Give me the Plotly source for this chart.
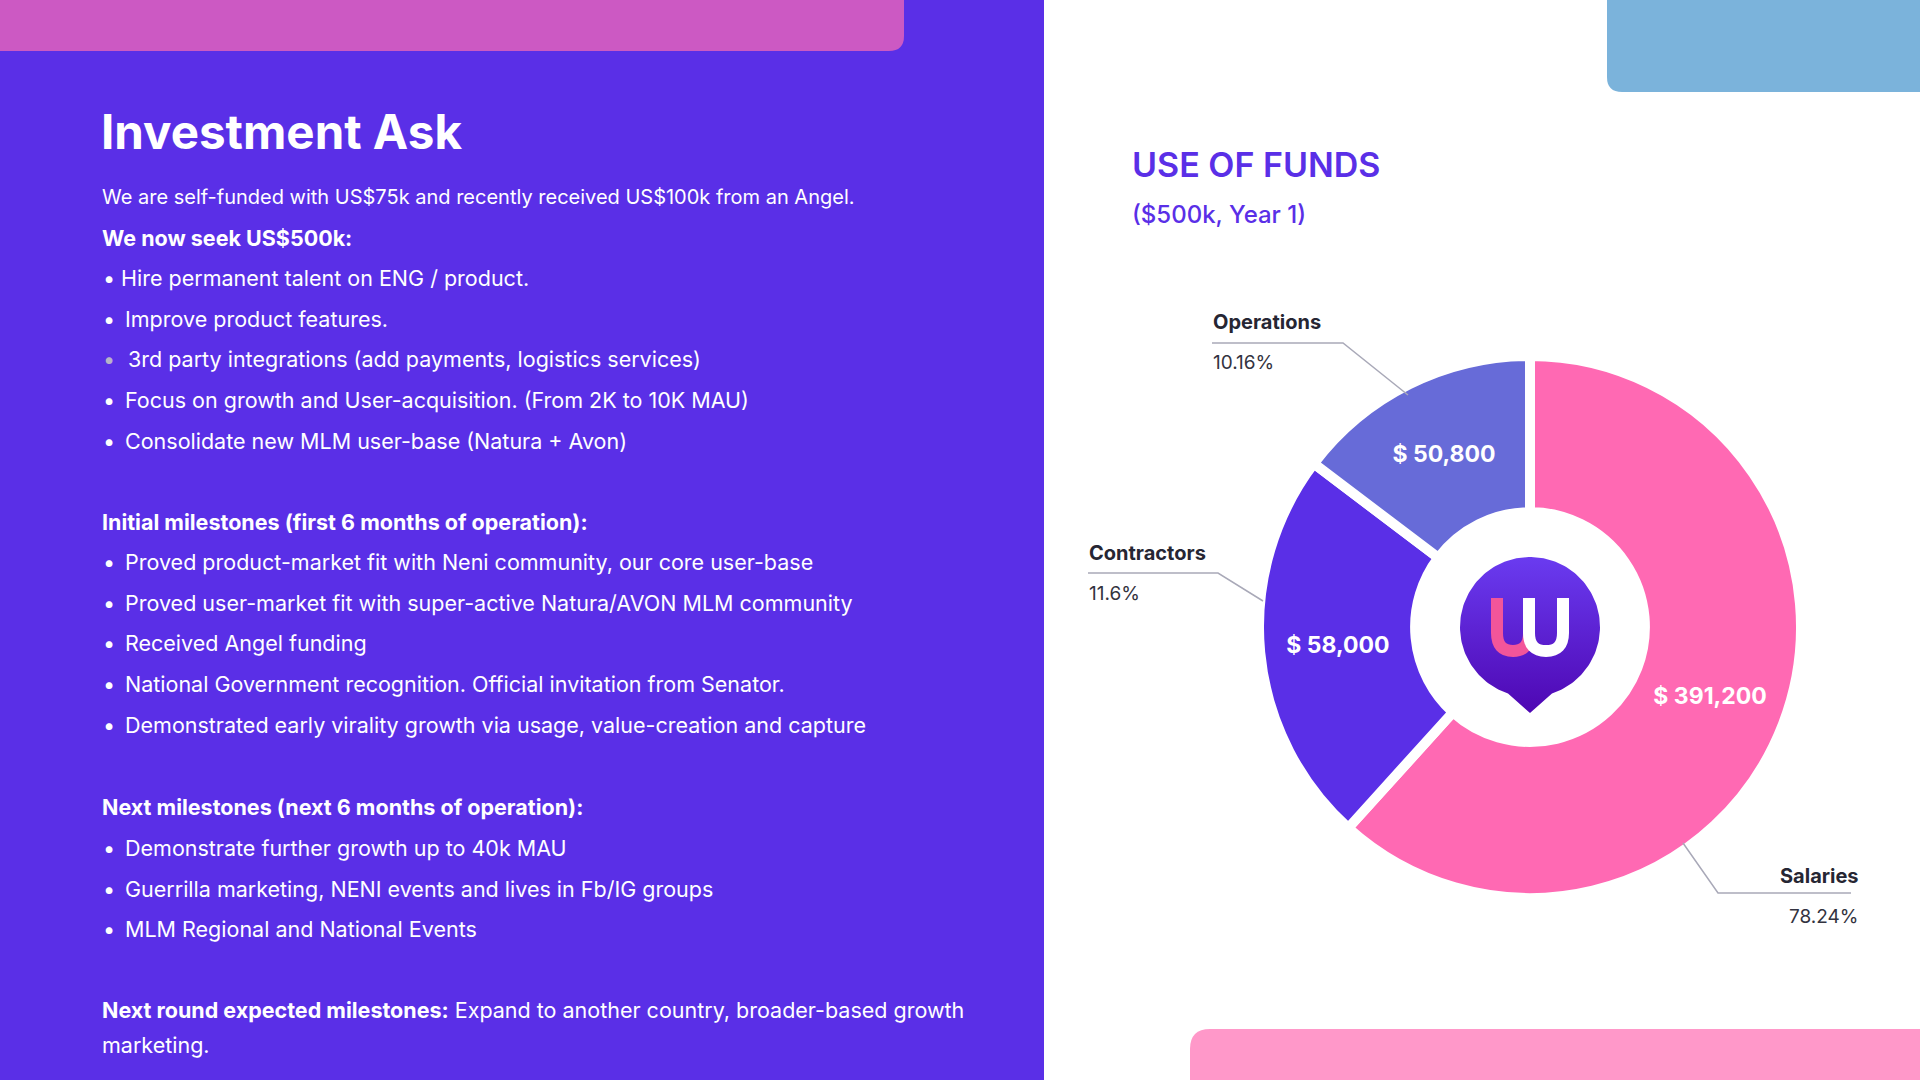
import numpy as np
import plotly.graph_objects as go

# ---------------- data ----------------
categories = ["Salaries", "Contractors", "Operations"]
amounts_usd = [391200, 58000, 50800]
percent_labels = ["78.24%", "11.6%", "10.16%"]
# angular share of each ring segment as drawn in the reference
drawn_share_pct = [61.7, 23.6, 14.7]

slice_colors = ["#FF69B3", "#5A2FE7", "#676BD8"]

title_left = "Investment Ask"
intro_line = "We are self-funded with US$75k and recently received US$100k from an Angel."
seek_header = "We now seek US$500k:"
seek_items = [
    "Hire permanent talent on ENG / product.",
    "Improve product features.",
    "3rd party integrations (add payments, logistics services)",
    "Focus on growth and User-acquisition. (From 2K to 10K MAU)",
    "Consolidate new MLM user-base (Natura + Avon)",
]
initial_header = "Initial milestones (first 6 months of operation):"
initial_items = [
    "Proved product-market fit with Neni community, our core user-base",
    "Proved user-market fit with super-active Natura/AVON MLM community",
    "Received Angel funding",
    "National Government recognition. Official invitation from Senator.",
    "Demonstrated early virality growth via usage, value-creation and capture",
]
next_header = "Next milestones (next 6 months of operation):"
next_items = [
    "Demonstrate further growth up to 40k MAU",
    "Guerrilla marketing, NENI events and lives in Fb/IG groups",
    "MLM Regional and National Events",
]
round_header = "Next round expected milestones:"
round_text_1 = "Expand to another country, broader-based growth"
round_text_2 = "marketing."

chart_title = "USE OF FUNDS"
chart_subtitle = "($500k, Year 1)"

# ---------------- layout constants ----------------
W, H = 1920, 1080
PANEL = "#5A2FE7"
WHITE = "#FFFFFF"
FONT = "Inter"
BODY = 21.5

fig = go.Figure()

# ---------------- donut ----------------
cx, cy, R = 1530, 627, 271
fig.add_trace(go.Pie(
    labels=categories,
    values=drawn_share_pct,
    text=["$ {:,}".format(a) for a in amounts_usd],
    textinfo="text",
    textposition="inside",
    insidetextorientation="horizontal",
    textfont=dict(family=FONT, size=23, color=WHITE, weight=700),
    sort=False,
    direction="clockwise",
    rotation=0,
    hole=0.424,
    marker=dict(colors=slice_colors, line=dict(color=WHITE, width=10)),
    domain=dict(x=[(cx - R) / W, (cx + R) / W], y=[1 - (cy + R) / H, 1 - (cy - R) / H]),
    showlegend=False,
    hoverinfo="label+percent",
))

# ---------------- logo in the hole ----------------
lr = 70
t = np.radians(np.linspace(198.3, 521.7, 160))
lx = list(cx + lr * np.sin(t)) + [cx, cx + lr * np.sin(t[0])]
ly = list(cy - lr * np.cos(t)) + [cy + 86, cy - lr * np.cos(t[0])]
fig.add_trace(go.Scatter(
    x=lx, y=ly, mode="lines", fill="toself", line=dict(width=0, color="#5A20D8"),
    fillgradient=dict(type="vertical", colorscale=[[0, "#4E07B3"], [1, "#6A3BF0"]]),
    hoverinfo="skip", showlegend=False,
))

shapes = []
# background panels
shapes.append(dict(type="rect", xref="x", yref="y", x0=0, x1=1044, y0=0, y1=H,
                   fillcolor=PANEL, line=dict(width=0), layer="below"))
shapes.append(dict(type="path", xref="x", yref="y", layer="below",
                   path="M 0 0 L 904 0 L 904 36 Q 904 51 889 51 L 0 51 Z",
                   fillcolor="#CC59C3", line=dict(width=0)))
shapes.append(dict(type="path", xref="x", yref="y", layer="below",
                   path="M 1607 0 L 1920 0 L 1920 92 L 1622 92 Q 1607 92 1607 77 Z",
                   fillcolor="#7BB3DB", line=dict(width=0)))
shapes.append(dict(type="path", xref="x", yref="y", layer="below",
                   path="M 1190 1080 L 1190 1049 Q 1190 1029 1210 1029 L 1920 1029 L 1920 1080 Z",
                   fillcolor="#FF98C9", line=dict(width=0)))

# logo letter
shapes.append(dict(type="path", xref="x", yref="y", layer="above",
                   path="M 1497 598 L 1497 633 Q 1497 651 1513 651 Q 1529 651 1529 633",
                   line=dict(color="#F2559A", width=12)))
shapes.append(dict(type="path", xref="x", yref="y", layer="above",
                   path="M 1529 598 L 1529 633 Q 1529 651 1546 651 Q 1563 651 1563 633 L 1563 598",
                   line=dict(color=WHITE, width=12)))

# leader lines
LEADER = "#A9A9B8"
for pts in [
    [(1212, 343), (1343, 343), (1408, 395)],
    [(1088, 573), (1218, 573), (1263, 601)],
    [(1683, 843), (1718, 893), (1851, 893)],
]:
    p = "M " + " L ".join(f"{x} {y}" for x, y in pts)
    shapes.append(dict(type="path", xref="x", yref="y", path=p, layer="above",
                       line=dict(color=LEADER, width=1.5)))

annotations = []


def txt(x, y, s, size=BODY, color=WHITE, weight=400, anchor="left"):
    annotations.append(dict(
        x=x, y=y, xref="x", yref="y", text=s, showarrow=False,
        xanchor=anchor, yanchor="middle",
        font=dict(family=FONT, size=size, color=color, weight=weight),
    ))


def bullet(y, s, x_text=125, bullet_color=WHITE):
    txt(101, y, "•", size=BODY, color=bullet_color)
    txt(x_text, y, s)


# left panel text
txt(99, 131, title_left, size=47.5, weight=700)
txt(100, 197, intro_line, size=20)
txt(100, 238, seek_header, weight=700)
seek_y = [278, 319, 359, 400, 441]
seek_x = [119, 123, 126, 123, 123]
for i, (yy, s) in enumerate(zip(seek_y, seek_items)):
    bullet(yy, s, x_text=seek_x[i], bullet_color="#B7B3C8" if i == 2 else WHITE)
txt(100, 522, initial_header, weight=700)
for yy, s in zip([562, 603, 643, 684, 725], initial_items):
    bullet(yy, s, x_text=123)
txt(100, 807, next_header, weight=700)
for yy, s in zip([848, 889, 929], next_items):
    bullet(yy, s, x_text=123)
txt(100, 1010, f"<b>{round_header}</b> {round_text_1}")
txt(100, 1045, round_text_2)

# right panel text
txt(1130, 164, chart_title, size=34, color="#5A2FE7", weight=600)
txt(1130, 214, chart_subtitle, size=24, color="#5A2FE7", weight=500)

DARK = "#262633"
label_pos = {
    "Operations": (1211, 322, 362, "left"),
    "Contractors": (1087, 553, 593, "left"),
    "Salaries": (1861, 876, 916, "right"),
}
for cat, pct in zip(categories, percent_labels):
    x, y1, y2, anc = label_pos[cat]
    txt(x, y1, cat, size=20, color=DARK, weight=700, anchor=anc)
    txt(x, y2, pct, size=19, color="#333340", weight=400, anchor=anc)

fig.update_layout(
    width=W, height=H,
    margin=dict(l=0, r=0, t=0, b=0),
    paper_bgcolor=WHITE, plot_bgcolor="rgba(0,0,0,0)",
    xaxis=dict(range=[0, W], visible=False, fixedrange=True, domain=[0, 1]),
    yaxis=dict(range=[H, 0], visible=False, fixedrange=True, domain=[0, 1]),
    shapes=shapes, annotations=annotations,
    showlegend=False,
    font=dict(family=FONT),
)

fig.write_html(
    "out.html",
    config={"displayModeBar": False},
    post_script="document.body.style.margin='0';document.body.style.overflow='hidden';",
)
